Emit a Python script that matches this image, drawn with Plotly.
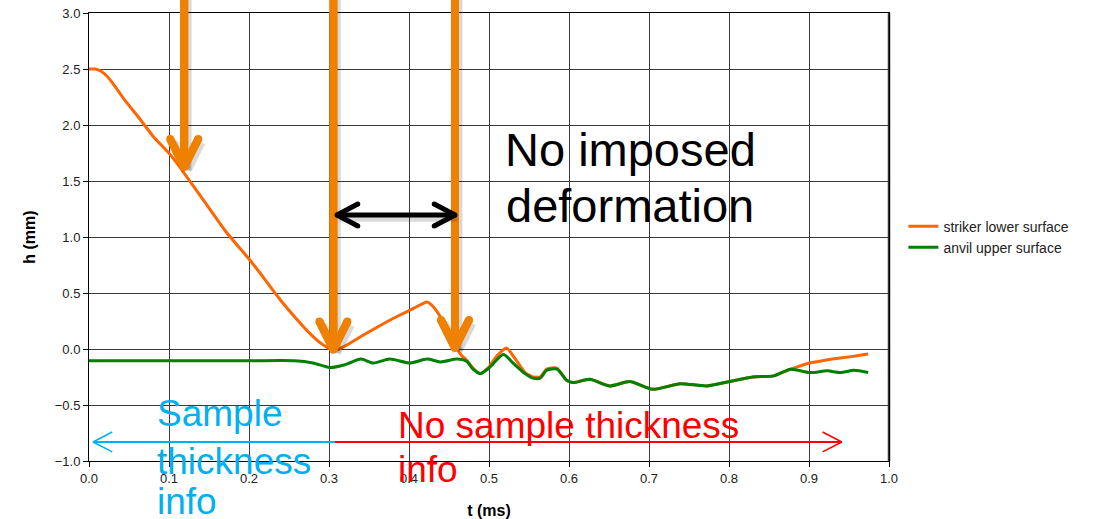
import plotly.graph_objects as go

# ---------------- data ----------------
t_striker = [0.000, 0.008, 0.015, 0.022, 0.030, 0.045, 0.064, 0.080, 0.101, 0.114, 0.143,
             0.172, 0.201, 0.220, 0.239, 0.258, 0.276, 0.290, 0.300, 0.305, 0.312,
             0.322, 0.343, 0.364, 0.385, 0.405, 0.4225, 0.430, 0.439, 0.450, 0.460,
             0.466, 0.472, 0.480, 0.489, 0.500, 0.510, 0.522, 0.532, 0.545, 0.555,
             0.564, 0.572, 0.585, 0.597, 0.605, 0.626, 0.651, 0.676, 0.705, 0.739,
             0.772, 0.801, 0.830, 0.856, 0.877, 0.901, 0.920, 0.939, 0.956, 0.974]
h_striker = [2.50, 2.50, 2.48, 2.44, 2.37, 2.22, 2.05, 1.90, 1.74, 1.62, 1.33,
             1.04, 0.795, 0.62, 0.44, 0.28, 0.14, 0.05, 0.005, -0.01, 0.00,
             0.035, 0.125, 0.21, 0.29, 0.36, 0.42, 0.38, 0.29, 0.14, 0.00,
             -0.06, -0.10, -0.17, -0.22, -0.16, -0.06, 0.01, -0.08, -0.21, -0.25,
             -0.25, -0.18, -0.17, -0.28, -0.30, -0.27, -0.33, -0.29, -0.36, -0.31,
             -0.33, -0.29, -0.25, -0.24, -0.18, -0.125, -0.10, -0.08, -0.065, -0.045]

t_anvil = [0.000, 0.100, 0.200, 0.257, 0.280, 0.301, 0.320, 0.340, 0.355, 0.376,
           0.401, 0.4225, 0.439, 0.460, 0.472, 0.480, 0.489, 0.500, 0.518, 0.530,
           0.545, 0.555, 0.564, 0.572, 0.585, 0.597, 0.605, 0.626, 0.651, 0.676,
           0.705, 0.739, 0.772, 0.801, 0.830, 0.856, 0.877, 0.901, 0.923, 0.939,
           0.956, 0.974]
h_anvil = [-0.105, -0.105, -0.105, -0.105, -0.125, -0.165, -0.14, -0.09, -0.125, -0.09,
           -0.125, -0.09, -0.115, -0.09, -0.11, -0.18, -0.22, -0.17, -0.05, -0.125,
           -0.22, -0.26, -0.26, -0.19, -0.18, -0.28, -0.30, -0.27, -0.33, -0.29,
           -0.36, -0.31, -0.33, -0.29, -0.25, -0.24, -0.18, -0.21, -0.195, -0.21,
           -0.19, -0.21]

x_ticks = [0.0, 0.1, 0.2, 0.3, 0.4, 0.5, 0.6, 0.7, 0.8, 0.9, 1.0]
y_ticks = [-1.0, -0.5, 0.0, 0.5, 1.0, 1.5, 2.0, 2.5, 3.0]

X0, X1 = 0.0, 1.0
Y0, Y1 = -1.0, 3.0

FONT = "Arial, Liberation Sans, sans-serif"


def px(t):
    return (t - X0) / (X1 - X0)


def py(h):
    return (h - Y0) / (Y1 - Y0)


fig = go.Figure()
fig.add_trace(go.Scatter(x=t_striker, y=h_striker, mode="lines",
                         name="striker lower surface",
                         line=dict(color="#FF6600", width=3, shape="spline", smoothing=0.5)))
fig.add_trace(go.Scatter(x=t_anvil, y=h_anvil, mode="lines",
                         name="anvil upper surface",
                         line=dict(color="#008000", width=3, shape="spline", smoothing=0.7)))

shapes = []


def seg(x0, y0, x1, y1, color, width, shadow=False):
    if shadow:
        shapes.append(dict(type="line", xref="paper", yref="paper",
                           x0=px(x0) + 0.003, y0=py(y0) - 0.007,
                           x1=px(x1) + 0.003, y1=py(y1) - 0.007,
                           line=dict(color="rgba(0,0,0,0.15)", width=width + 2)))
    shapes.append(dict(type="line", xref="paper", yref="paper",
                       x0=px(x0), y0=py(y0), x1=px(x1), y1=py(y1),
                       line=dict(color=color, width=width)))


def dot(x, y, color, d):
    # round cap, d in pixels
    rx = d / 2 / 800
    ry = d / 2 / 448
    shapes.append(dict(type="circle", xref="paper", yref="paper",
                       x0=px(x) - rx, x1=px(x) + rx, y0=py(y) - ry, y1=py(y) + ry,
                       fillcolor=color, line=dict(width=0)))


ORANGE = "#F08000"
# big vertical arrows (t position, tip height)
down_arrows = [(0.119, 1.625), (0.3055, -0.005), (0.4575, 0.01)]
for (ta, tip) in down_arrows:
    seg(ta, 3.3, ta, tip, ORANGE, 8, shadow=True)
    for s in (-1, 1):
        seg(ta + s * 0.0175, tip + 0.25, ta, tip, ORANGE, 8, shadow=True)
for (ta, tip) in down_arrows:
    for s in (-1, 1):
        seg(ta + s * 0.0175, tip + 0.25, ta, tip, ORANGE, 8)
        dot(ta + s * 0.0175, tip + 0.25, ORANGE, 8)
    seg(ta, 3.3, ta, tip, ORANGE, 8)
    dot(ta, tip, ORANGE, 8)

# black double-headed arrow
yb = 1.196
tl, tr = 0.310, 0.4575
seg(tl, yb, tr, yb, "black", 5, shadow=True)
for s in (-1, 1):
    seg(tl + 0.026, yb + s * 0.098, tl, yb, "black", 5)
    seg(tr - 0.026, yb + s * 0.098, tr, yb, "black", 5)
    dot(tl + 0.026, yb + s * 0.098, "black", 5)
    dot(tr - 0.026, yb + s * 0.098, "black", 5)
dot(tl, yb, "black", 5)
dot(tr, yb, "black", 5)

# bottom thin arrows
yl = -0.83
BLUE = "#00B0F0"
RED = "#FF0000"
seg(0.005, yl, 0.3075, yl, BLUE, 2)
for s in (-1, 1):
    seg(0.005 + 0.024, yl + s * 0.089, 0.005, yl, BLUE, 1.5)
seg(0.3075, yl, 0.941, yl, RED, 2)
for s in (-1, 1):
    seg(0.941 - 0.024, yl + s * 0.089, 0.941, yl, RED, 1.5)

# thick right frame
shapes.append(dict(type="line", xref="paper", yref="paper", x0=1, x1=1, y0=0, y1=1,
                   line=dict(color="#333333", width=2.5), layer="below"))

annotations = []


def txt(text, t, h, size, color):
    annotations.append(dict(text=text, xref="paper", yref="paper",
                            x=px(t), y=py(h), xanchor="left", yanchor="middle",
                            showarrow=False,
                            font=dict(family=FONT, size=size, color=color)))


# positions in data units (t, h)
txt("No imposed", 0.518, 1.785, 47, "black")
txt("deformation", 0.519, 1.277, 47, "black")
txt("Sample", 0.082, -0.580, 37, BLUE)
txt("thickness", 0.082, -1.000, 37, BLUE)
txt("info", 0.082, -1.360, 37, BLUE)
txt("No sample thickness", 0.3838, -0.680, 37, RED)
txt("info", 0.3838, -1.073, 37, RED)

fig.update_layout(
    width=1095, height=519,
    margin=dict(l=89, r=206, t=13, b=58, autoexpand=False),
    paper_bgcolor="white", plot_bgcolor="white",
    font=dict(family=FONT, size=13, color="#222222"),
    showlegend=True,
    legend=dict(x=1.018, y=0.559, xanchor="left", yanchor="top",
                font=dict(family=FONT, size=14, color="#222222"),
                bgcolor="rgba(0,0,0,0)", tracegroupgap=0),
    shapes=shapes,
    annotations=annotations,
    xaxis=dict(range=[X0, X1], tickvals=x_ticks, tickformat=".1f",
               showgrid=True, gridcolor="#3a3a3a", gridwidth=1,
               showline=True, linecolor="black", linewidth=1, mirror=True,
               ticks="outside", ticklen=5, tickcolor="black",
               zeroline=False,
               tickfont=dict(family=FONT, size=13, color="#222222"),
               title=dict(text="<b>t (ms)</b>", standoff=20,
                          font=dict(family=FONT, size=16, color="black"))),
    yaxis=dict(range=[Y0, Y1], tickvals=y_ticks, tickformat=".1f",
               ticklabeloverflow="allow",
               showgrid=True, gridcolor="#3a3a3a", gridwidth=1,
               showline=True, linecolor="black", linewidth=1, mirror=True,
               ticks="outside", ticklen=5, tickcolor="black",
               zeroline=False,
               tickfont=dict(family=FONT, size=13, color="#222222"),
               title=dict(text="<b>h (mm)</b>", standoff=15,
                          font=dict(family=FONT, size=16, color="black"))),
)

# remove the default page margin so the figure sits at the window's corner
fig.write_html("out.html",
               config={"displayModeBar": False},
               post_script="document.body.style.margin='0';"
                           "document.body.style.overflow='hidden';")
